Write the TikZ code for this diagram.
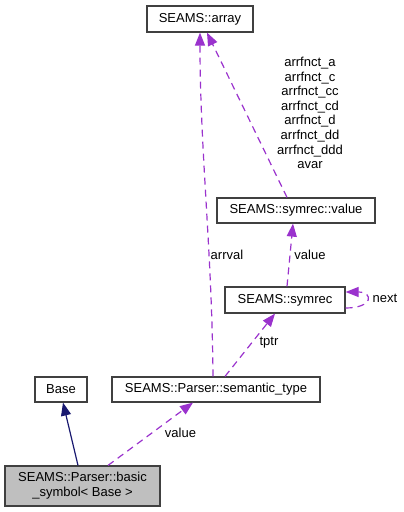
\documentclass[tikz,border=0pt]{standalone}
\usepackage{fontspec}
\setmainfont{Liberation Sans}
\usetikzlibrary{arrows.meta}
\definecolor{edgepurple}{HTML}{9A32CD}
\definecolor{edgenavy}{HTML}{191970}
\definecolor{boxgray}{HTML}{404040}
\definecolor{curgray}{HTML}{BFBFBF}

\begin{document}
\begin{tikzpicture}[x=1pt, y=-1pt,
  cls/.style={draw=boxgray, line width=1.2pt, fill=white, inner sep=0pt,
    align=center, font=\fontsize{13}{15}\selectfont},
  usage/.style={edgepurple, dash pattern=on 7pt off 5pt, line width=1.2pt,
    -{Triangle[length=13pt,width=10pt]}},
  inherit/.style={edgenavy, line width=1.2pt, -{Triangle[length=13pt,width=10pt]}},
  lbl/.style={font=\fontsize{13}{14.6}\selectfont, inner sep=0pt, align=center}]
  \useasboundingbox (0,0) rectangle (404,512);

  % classes
  \node[cls, minimum width=106pt, minimum height=26pt] (array) at (200,19) {SEAMS::array};
  \node[cls, minimum width=158pt, minimum height=25pt] (symval) at (296,210.5) {SEAMS::symrec::value};
  \node[cls, minimum width=120pt, minimum height=26pt] (symrec) at (285,300) {SEAMS::symrec};
  \node[cls, minimum width=52pt, minimum height=25pt] (base) at (61,389.5) {Base};
  \node[cls, minimum width=208pt, minimum height=25pt] (semtype) at (216,389.5) {SEAMS::Parser::semantic\_type};
  \node[cls, fill=curgray, minimum width=155pt, minimum height=40pt] (basic) at (82.5,486)
    {SEAMS::Parser::basic\\\_symbol< Base >};

  % inheritance
  \draw[inherit] ([xshift=-4.5pt]basic.north) -- ([xshift=2pt]base.south);

  % usage relations
  \draw[usage] ([xshift=25.5pt]basic.north) -- ([xshift=-23pt]semtype.south);
  \node[lbl] (lvalue) at (180.5,433) {value};

  \draw[usage] ([xshift=-3pt]semtype.north) .. controls (212,250) and (200,150) .. (array.south);
  \node[lbl] (larrval) at (227,255) {arrval};

  \draw[usage] ([xshift=-9pt]symval.north) -- ([xshift=7pt]array.south);
  \node[lbl] (larr) at (310,113) {arrfnct\_a\\arrfnct\_c\\arrfnct\_cc\\arrfnct\_cd\\arrfnct\_d\\arrfnct\_dd\\arrfnct\_ddd\\avar};

  \draw[usage] ([xshift=2pt]symrec.north) -- ([xshift=-3pt]symval.south);
  \node[lbl] (lsymval) at (310,255) {value};

  \draw[usage] ([xshift=9pt]semtype.north) -- ([xshift=-10pt]symrec.south);
  \node[lbl] (ltptr) at (269,343) {tptr};

  \draw[usage] ([yshift=-8pt]symrec.east) .. controls +(28,0) and +(28,0) .. ([yshift=8pt]symrec.east);
  \node[lbl] (lnext) at (385,298) {next};
\end{tikzpicture}
\end{document}
